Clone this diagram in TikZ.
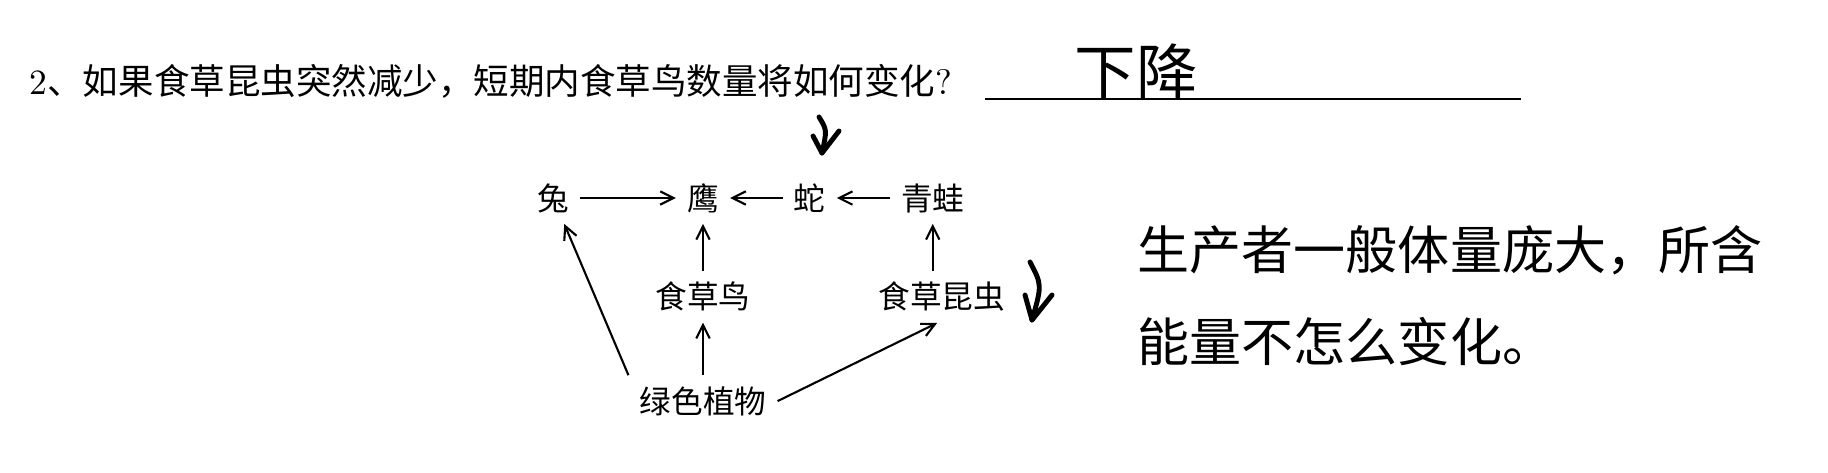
\documentclass[tikz,border=0pt]{standalone}
\usepackage{fontspec}
\newfontfamily\cjk{Noto Sans CJK SC}
\usetikzlibrary{positioning,arrows.meta}

\begin{document}
\begin{tikzpicture}[
  x=0.01cm, y=-0.01cm,
  node distance  = 0.47cm and 0.53cm,
  sp/.style      = {inner sep=3pt, font=\cjk\fontsize{9}{10}\selectfont},
  arr/.style     = {-{Straight Barb[length=3.8pt,width=3.8pt]}, line width=0.6pt},
  hand/.style    = {line width=1.4pt, line cap=round, line join=round},
  handtext/.style = {inner sep=0pt, align=left,
                     font=\cjk\fontsize{14.8}{26.2}\selectfont},
]
\fill[white] (0,0) rectangle (1828,472);

% question and answer blank
\node[anchor=west, inner sep=0pt, font=\fontsize{10.1}{11}\selectfont]
     (question) at (29,81)
     {2{\cjk 、如果食草昆虫突然减少，短期内食草鸟数量将如何变化}?};
\coordinate (blank_l) at (985,99);
\coordinate (blank_r) at (1521,99);
\draw[line width=0.6pt] (blank_l) -- (blank_r);
\node[font=\cjk\fontsize{17.5}{17.5}\selectfont, inner sep=0pt]
     (answer) at (1136,72) {下降};

% food web
\node[sp] (eagle) at (703,198) {鹰};
\node[sp, left=0.955cm of eagle]  (rabbit) {兔};
\node[sp, right=0.525cm of eagle] (snake)  {蛇};
\node[sp, right=0.53cm of snake]  (frog)   {青蛙};
\node[sp, below=of eagle]         (bird)   {食草鸟};
\node[sp, below=of frog, xshift=0.09cm] (insect) {食草昆虫};
\node[sp, below=0.525cm of bird]  (plants) {绿色植物};
\draw[arr] (rabbit) -- (eagle);
\draw[arr] (snake)  -- (eagle);
\draw[arr] (frog)   -- (snake);
\draw[arr] (bird)   -- (eagle);
\draw[arr] (frog |- insect.north) -- (frog);
\draw[arr] (plants) -- (bird);
\draw[arr] (plants.north west) -- (rabbit);
\draw[arr] (plants.east) -- (insect.-100);

% handwritten marks
\draw[hand] (819,117) .. controls (827,130) .. (822,153);
\draw[hand] (813,136) -- (822,153) -- (839,131);
\draw[hand] (1030,262) .. controls (1042,285) .. (1032,320);
\draw[hand] (1025,295) -- (1032,320) -- (1052,295);
\node[handtext, anchor=west] (note) at (1137,296)
     {生产者一般体量庞大，所含\\能量不怎么变化。};
\end{tikzpicture}
\end{document}
